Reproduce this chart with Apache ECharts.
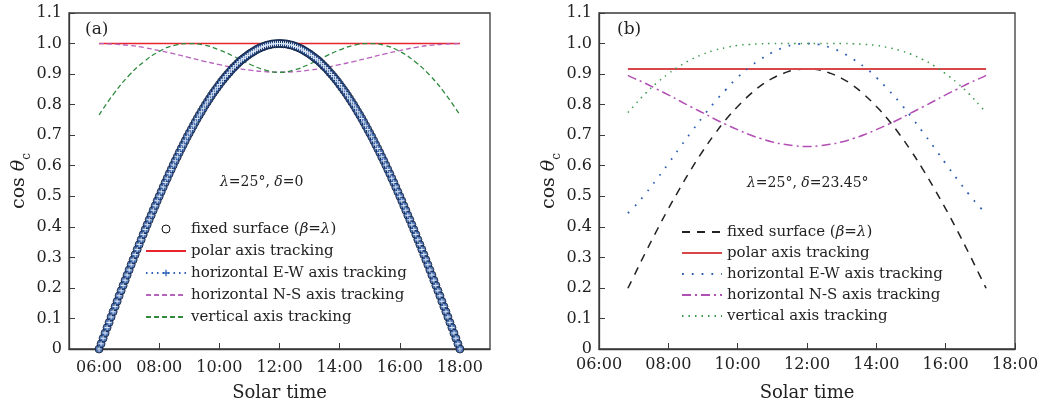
<!DOCTYPE html>
<html>
<head>
<meta charset="utf-8">
<script src="https://cdn.jsdelivr.net/npm/echarts@6/dist/echarts.min.js"></script>
<style>
html, body { margin: 0; padding: 0; background: #fff; }
#main { width: 1049px; height: 407px; }
</style>
</head>
<body>
<div id="main"></div>
<script>
var dom = document.getElementById("main");
var myChart = echarts.init(dom);
var FONT = '"DejaVu Serif", serif';

// ---- panel (a): lambda=25, delta=0 ----
// solar time in minutes, every 4 min from 06:00 to 18:00
var timeA = [
    360, 364, 368, 372, 376, 380, 384, 388, 392, 396, 400, 404, 408, 412, 416,
    420, 424, 428, 432, 436, 440, 444, 448, 452, 456, 460, 464, 468, 472, 476,
    480, 484, 488, 492, 496, 500, 504, 508, 512, 516, 520, 524, 528, 532, 536,
    540, 544, 548, 552, 556, 560, 564, 568, 572, 576, 580, 584, 588, 592, 596,
    600, 604, 608, 612, 616, 620, 624, 628, 632, 636, 640, 644, 648, 652, 656,
    660, 664, 668, 672, 676, 680, 684, 688, 692, 696, 700, 704, 708, 712, 716,
    720, 724, 728, 732, 736, 740, 744, 748, 752, 756, 760, 764, 768, 772, 776,
    780, 784, 788, 792, 796, 800, 804, 808, 812, 816, 820, 824, 828, 832, 836,
    840, 844, 848, 852, 856, 860, 864, 868, 872, 876, 880, 884, 888, 892, 896,
    900, 904, 908, 912, 916, 920, 924, 928, 932, 936, 940, 944, 948, 952, 956,
    960, 964, 968, 972, 976, 980, 984, 988, 992, 996, 1000, 1004, 1008, 1012, 1016,
    1020, 1024, 1028, 1032, 1036, 1040, 1044, 1048, 1052, 1056, 1060, 1064, 1068, 1072, 1076,
    1080
];
var fixedA = [
    0.000, 0.017, 0.035, 0.052, 0.070, 0.087, 0.105, 0.122, 0.139, 0.156, 0.174, 0.191, 0.208, 0.225, 0.242,
    0.259, 0.276, 0.292, 0.309, 0.326, 0.342, 0.358, 0.375, 0.391, 0.407, 0.423, 0.438, 0.454, 0.469, 0.485,
    0.500, 0.515, 0.530, 0.545, 0.559, 0.574, 0.588, 0.602, 0.616, 0.629, 0.643, 0.656, 0.669, 0.682, 0.695,
    0.707, 0.719, 0.731, 0.743, 0.755, 0.766, 0.777, 0.788, 0.799, 0.809, 0.819, 0.829, 0.839, 0.848, 0.857,
    0.866, 0.875, 0.883, 0.891, 0.899, 0.906, 0.914, 0.921, 0.927, 0.934, 0.940, 0.946, 0.951, 0.956, 0.961,
    0.966, 0.970, 0.974, 0.978, 0.982, 0.985, 0.988, 0.990, 0.993, 0.995, 0.996, 0.998, 0.999, 0.999, 1.000,
    1.000, 1.000, 0.999, 0.999, 0.998, 0.996, 0.995, 0.993, 0.990, 0.988, 0.985, 0.982, 0.978, 0.974, 0.970,
    0.966, 0.961, 0.956, 0.951, 0.946, 0.940, 0.934, 0.927, 0.921, 0.914, 0.906, 0.899, 0.891, 0.883, 0.875,
    0.866, 0.857, 0.848, 0.839, 0.829, 0.819, 0.809, 0.799, 0.788, 0.777, 0.766, 0.755, 0.743, 0.731, 0.719,
    0.707, 0.695, 0.682, 0.669, 0.656, 0.643, 0.629, 0.616, 0.602, 0.588, 0.574, 0.559, 0.545, 0.530, 0.515,
    0.500, 0.485, 0.469, 0.454, 0.438, 0.423, 0.407, 0.391, 0.375, 0.358, 0.342, 0.326, 0.309, 0.292, 0.276,
    0.259, 0.242, 0.225, 0.208, 0.191, 0.174, 0.156, 0.139, 0.122, 0.105, 0.087, 0.070, 0.052, 0.035, 0.017,
    0.000
];
// E-W tracking falls on the fixed surface curve when delta = 0
var ewA = fixedA;

var timeA2 = [360, 390, 420, 450, 480, 510, 540, 570, 600, 630, 660, 690, 720,
    750, 780, 810, 840, 870, 900, 930, 960, 990, 1020, 1050, 1080];
var nsA = [1.000, 0.998, 0.994, 0.987, 0.977, 0.966, 0.954, 0.942, 0.931, 0.921, 0.913, 0.908, 0.906,
    0.908, 0.913, 0.921, 0.931, 0.942, 0.954, 0.966, 0.977, 0.987, 0.994, 0.998, 1.000];
var vertA = [0.766, 0.837, 0.896, 0.941, 0.974, 0.994, 1.000, 0.995, 0.979, 0.957, 0.933, 0.914, 0.906,
    0.914, 0.933, 0.957, 0.979, 0.995, 1.000, 0.994, 0.974, 0.941, 0.896, 0.837, 0.766];
var timePolarA = [360, 1080];
var polarA = [1.000, 1.000];

// ---- panel (b): lambda=25, delta=23.45 ----
var timeB = [410, 420, 440, 460, 480, 500, 520, 540, 560, 580, 600, 620, 640, 660, 680, 700, 720,
    740, 760, 780, 800, 820, 840, 860, 880, 900, 920, 940, 960, 980, 1000, 1020, 1030];
var fixedB = [0.199, 0.237, 0.314, 0.388, 0.459, 0.526, 0.590, 0.649, 0.703, 0.752, 0.794, 0.831, 0.862, 0.886, 0.903, 0.914, 0.917,
    0.914, 0.903, 0.886, 0.862, 0.831, 0.794, 0.752, 0.703, 0.649, 0.590, 0.526, 0.459, 0.388, 0.314, 0.237, 0.199];
var ewB = [0.445, 0.463, 0.507, 0.556, 0.607, 0.660, 0.711, 0.761, 0.808, 0.850, 0.889, 0.922, 0.949, 0.971, 0.987, 0.997, 1.000,
    0.997, 0.987, 0.971, 0.949, 0.922, 0.889, 0.850, 0.808, 0.761, 0.711, 0.660, 0.607, 0.556, 0.507, 0.463, 0.445];
var nsB = [0.896, 0.887, 0.870, 0.851, 0.832, 0.812, 0.792, 0.773, 0.753, 0.735, 0.718, 0.702, 0.689, 0.678, 0.670, 0.665, 0.663,
    0.665, 0.670, 0.678, 0.689, 0.702, 0.718, 0.735, 0.753, 0.773, 0.792, 0.812, 0.832, 0.851, 0.870, 0.887, 0.896];
var vertB = [0.774, 0.795, 0.836, 0.871, 0.901, 0.927, 0.948, 0.965, 0.978, 0.987, 0.994, 0.997, 0.999, 1.000, 1.000, 1.000, 1.000,
    1.000, 1.000, 1.000, 0.999, 0.997, 0.994, 0.987, 0.978, 0.965, 0.948, 0.927, 0.901, 0.871, 0.836, 0.795, 0.774];
var timePolarB = [410, 1030];
var polarB = [0.917, 0.917];

var tickTimes = [360, 480, 600, 720, 840, 960, 1080];

var namesA = ['fixed surface (β=λ)', 'polar axis tracking', 'horizontal E-W axis tracking',
    'horizontal N-S axis tracking', 'vertical axis tracking'];
// trailing space keeps panel (b) legend entries apart from panel (a)
var namesB = namesA.map(function (n) { return n + ' '; });

function pairs(xs, ys) {
    return xs.map(function (x, i) { return [x, ys[i]]; });
}
function fmtTime(v) {
    var h = Math.floor(v / 60);
    return (h < 10 ? '0' : '') + h + ':00';
}
function legendFmt(name) {
    var n = name.trim();
    if (n.indexOf('β') >= 0) return 'fixed surface ({i|β}={i|λ})';
    return n;
}

var plusPath = 'path://M4,0H6V4H10V6H6V10H4V6H0V4H4Z';
var frame = '#3a3a3a';
var txt = '#222';

function xAxisOf(idx, min, max, margin) {
    return {
        gridIndex: idx, type: 'value', min: min, max: max,
        axisLine: { show: true, lineStyle: { color: frame, width: 1.3 } },
        axisTick: { inside: true, length: 6, customValues: tickTimes, lineStyle: { color: frame } },
        axisLabel: { customValues: tickTimes, formatter: fmtTime, margin: margin, color: txt, fontFamily: FONT, fontSize: 16 },
        splitLine: { show: false },
        name: 'Solar time', nameLocation: 'middle', nameGap: 35,
        nameTextStyle: { color: txt, fontFamily: FONT, fontSize: 18 }
    };
}
function yAxisOf(idx) {
    return {
        gridIndex: idx, type: 'value', min: 0, max: 1.1, interval: 0.1,
        axisLine: { show: true, lineStyle: { color: frame, width: 1.3 } },
        axisTick: { inside: true, length: 6, lineStyle: { color: frame } },
        axisLabel: {
            margin: 7, color: txt, fontFamily: FONT, fontSize: 16,
            formatter: function (v) { return v === 0 ? '0' : v.toFixed(1); }
        },
        splitLine: { show: false },
        name: '{n|cos }{t|θ}{s|c}', nameLocation: 'middle', nameGap: 34,
        nameTextStyle: {
            color: txt, fontFamily: FONT, fontSize: 19,
            rich: {
                n: { fontFamily: FONT, fontSize: 19, color: txt, lineHeight: 22 },
                t: { fontFamily: FONT, fontSize: 19, color: txt, fontStyle: 'italic', lineHeight: 22 },
                s: { fontFamily: FONT, fontSize: 12, color: txt, verticalAlign: 'bottom', lineHeight: 28 }
            }
        }
    };
}
function legendOf(left, top, gap, items) {
    return {
        orient: 'vertical', left: left, top: top, itemWidth: 40, itemHeight: 8, itemGap: gap,
        selectedMode: false,
        itemStyle: { opacity: 0 },
        textStyle: { color: txt, fontFamily: FONT, fontSize: 15, lineHeight: 18,
            rich: { i: { fontFamily: FONT, fontSize: 15, fontStyle: 'italic', color: txt } } },
        formatter: legendFmt,
        data: items
    };
}

option = {
    animation: false,
    backgroundColor: '#fff',
    grid: [
        { left: 69, top: 13, width: 421, bottom: 56, show: true, borderColor: frame, borderWidth: 1.3 },
        { left: 599, top: 13, width: 416, bottom: 56, show: true, borderColor: frame, borderWidth: 1.3 }
    ],
    xAxis: [xAxisOf(0, 300, 1140, 11), xAxisOf(1, 360, 1080, 8)],
    yAxis: [yAxisOf(0), yAxisOf(1)],
    legend: [
        legendOf(140, 215, 4, [
            { name: namesA[0], itemStyle: { opacity: 1, color: '#fff', borderColor: '#111', borderWidth: 1 } },
            { name: namesA[1] },
            { name: namesA[2], itemStyle: { opacity: 1, color: '#2e62b8' } },
            { name: namesA[3] },
            { name: namesA[4] }
        ]),
        legendOf(676, 218, 3, namesB.map(function (n) { return { name: n }; }))
    ],
    graphic: [
        { type: 'text', left: 85, top: 21, style: { text: '(a)', font: '17px ' + FONT, fill: txt } },
        { type: 'text', left: 617, top: 21, style: { text: '(b)', font: '17px ' + FONT, fill: txt } },
        { type: 'text', left: 220, top: 175, style: {
            text: '{i|λ}=25°, {i|δ}=0', font: '14px ' + FONT, fill: txt,
            rich: { i: { fontFamily: FONT, fontSize: 14, fontStyle: 'italic', color: txt } } } },
        { type: 'text', left: 747, top: 176, style: {
            text: '{i|λ}=25°, {i|δ}=23.45°', font: '14px ' + FONT, fill: txt,
            rich: { i: { fontFamily: FONT, fontSize: 14, fontStyle: 'italic', color: txt } } } }
    ],
    series: [
        {
            name: namesA[0], type: 'scatter', xAxisIndex: 0, yAxisIndex: 0,
            data: pairs(timeA, fixedA), symbol: 'circle', symbolSize: 8,
            itemStyle: { color: '#2c5aa5', borderColor: '#121d3a', borderWidth: 1 }, z: 3
        },
        {
            name: namesA[1], type: 'line', xAxisIndex: 0, yAxisIndex: 0,
            data: pairs(timePolarA, polarA), symbol: 'none',
            lineStyle: { color: '#e8242c', width: 1.5 }, z: 2
        },
        {
            name: namesA[2], type: 'line', xAxisIndex: 0, yAxisIndex: 0,
            data: pairs(timeA, ewA), symbol: plusPath, symbolSize: 5, showAllSymbol: true,
            itemStyle: { color: '#dbe6f6' },
            lineStyle: { color: '#2e62b8', width: 1.5, type: [1.5, 4] }, z: 4
        },
        {
            name: namesA[3], type: 'line', xAxisIndex: 0, yAxisIndex: 0,
            data: pairs(timeA2, nsA), symbol: 'none', smooth: true,
            lineStyle: { color: '#b863bd', width: 1.3, type: [5, 3] }, z: 2
        },
        {
            name: namesA[4], type: 'line', xAxisIndex: 0, yAxisIndex: 0,
            data: pairs(timeA2, vertA), symbol: 'none', smooth: true,
            lineStyle: { color: '#2f8a3e', width: 1.3, type: [5, 3] }, z: 2
        },
        {
            name: namesB[0], type: 'line', xAxisIndex: 1, yAxisIndex: 1,
            data: pairs(timeB, fixedB), symbol: 'none', smooth: true,
            lineStyle: { color: '#222', width: 1.5, type: [8, 7] }
        },
        {
            name: namesB[1], type: 'line', xAxisIndex: 1, yAxisIndex: 1,
            data: pairs(timePolarB, polarB), symbol: 'none',
            lineStyle: { color: '#d8484a', width: 2 }
        },
        {
            name: namesB[2], type: 'line', xAxisIndex: 1, yAxisIndex: 1,
            data: pairs(timeB, ewB), symbol: 'none', smooth: true,
            lineStyle: { color: '#2f5fb0', width: 1.8, type: [1.8, 8] }
        },
        {
            name: namesB[3], type: 'line', xAxisIndex: 1, yAxisIndex: 1,
            data: pairs(timeB, nsB), symbol: 'none', smooth: true,
            lineStyle: { color: '#b14fb4', width: 1.5, type: [9, 4, 2, 4] }
        },
        {
            name: namesB[4], type: 'line', xAxisIndex: 1, yAxisIndex: 1,
            data: pairs(timeB, vertB), symbol: 'none', smooth: true,
            lineStyle: { color: '#3d9a4c', width: 1.5, type: [1.5, 5] }
        }
    ]
};

if (option && typeof option === "object") {
    myChart.setOption(option, true);
}
</script>
</body>
</html>
